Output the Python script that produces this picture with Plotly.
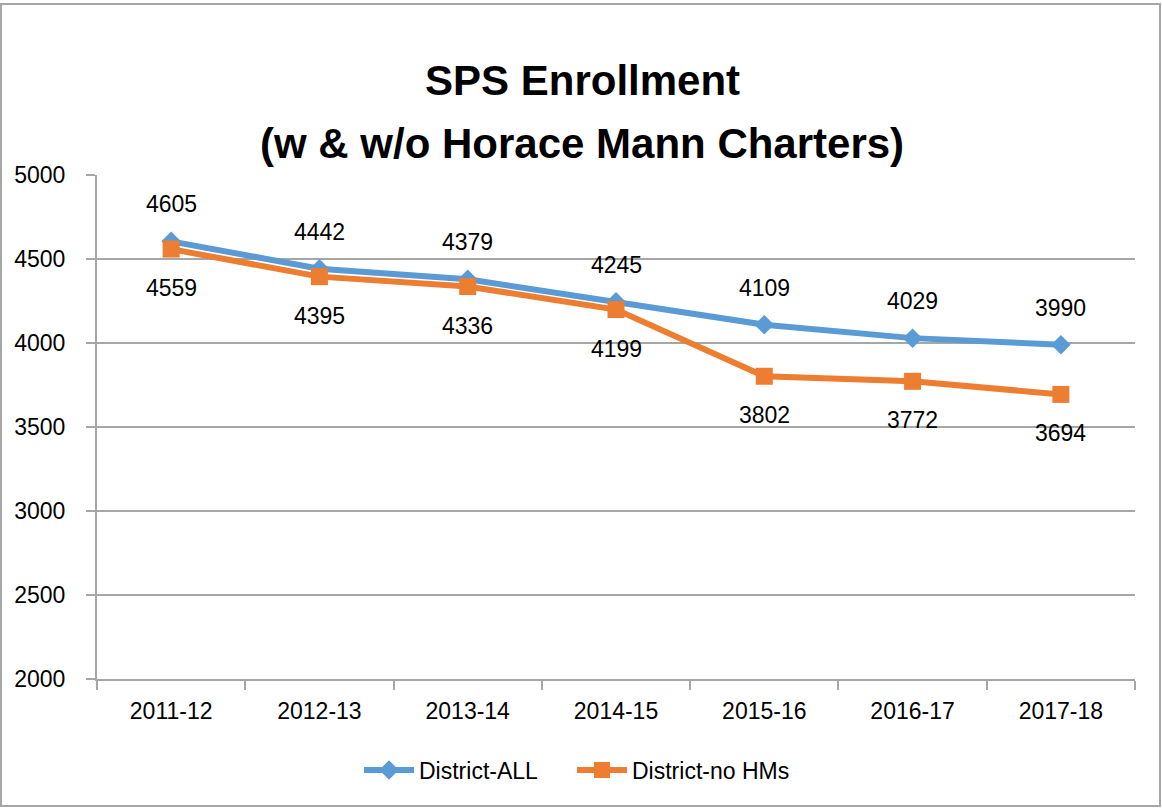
import plotly.graph_objects as go

years = ["2011-12", "2012-13", "2013-14", "2014-15", "2015-16", "2016-17", "2017-18"]
district_all = [4605, 4442, 4379, 4245, 4109, 4029, 3990]
district_no_hm = [4559, 4395, 4336, 4199, 3802, 3772, 3694]
y_ticks = [2000, 2500, 3000, 3500, 4000, 4500, 5000]

BLUE = "#5B9BD5"
ORANGE = "#ED7D31"
FONT = "Liberation Sans"

L, R, T, B = 97, 27, 175, 130
W, H = 1162, 809
pw, ph = W - L - R, H - T - B


def px_to_paper_x(px):
    return (px - L) / pw


def px_to_paper_y(py):
    return (H - B - py) / ph


fig = go.Figure()
fig.add_trace(go.Scatter(
    x=years, y=district_all, name="District-ALL", mode="lines+markers",
    line=dict(color=BLUE, width=6),
    marker=dict(symbol="diamond", size=15, color=BLUE),
    legend="legend",
))
fig.add_trace(go.Scatter(
    x=years, y=district_no_hm, name="District-no HMs", mode="lines+markers",
    line=dict(color=ORANGE, width=6),
    marker=dict(symbol="square", size=17, color=ORANGE),
    legend="legend2",
))

annotations = []
for x, v in zip(years, district_all):
    annotations.append(dict(x=x, y=v, xref="x", yref="y", text=str(v), showarrow=False,
                            yshift=37, font=dict(family=FONT, size=23, color="black")))
for x, v in zip(years, district_no_hm):
    annotations.append(dict(x=x, y=v, xref="x", yref="y", text=str(v), showarrow=False,
                            yshift=-39, font=dict(family=FONT, size=23, color="black")))

annotations.append(dict(x=px_to_paper_x(582), y=px_to_paper_y(55), xref="paper", yref="paper",
                        text="<b>SPS Enrollment</b>", showarrow=False,
                        font=dict(family=FONT, size=42, color="black")))
annotations.append(dict(x=px_to_paper_x(582), y=px_to_paper_y(118), xref="paper", yref="paper",
                        text="<b>(w &amp; w/o Horace Mann Charters)</b>", showarrow=False,
                        font=dict(family=FONT, size=42, color="black")))

legend_common = dict(orientation="h", yanchor="middle", xanchor="left",
                     y=px_to_paper_y(770), bgcolor="rgba(0,0,0,0)",
                     font=dict(family=FONT, size=23, color="black"), itemwidth=50)

fig.update_layout(
    width=W, height=H,
    margin=dict(l=L, r=R, t=T, b=B),
    paper_bgcolor="white", plot_bgcolor="white",
    font=dict(family=FONT, size=23, color="black"),
    showlegend=True,
    legend=dict(x=px_to_paper_x(359), **legend_common),
    legend2=dict(x=px_to_paper_x(572), **legend_common),
    annotations=annotations,
    shapes=[dict(type="rect", xref="paper", yref="paper",
                 x0=px_to_paper_x(1), x1=px_to_paper_x(1160),
                 y0=px_to_paper_y(806), y1=px_to_paper_y(4),
                 line=dict(color="#A6A6A6", width=2), layer="below")],
)

fig.update_xaxes(
    type="category", range=[-0.5, len(years) - 0.5], showgrid=False, showline=True,
    linecolor="#A6A6A6", linewidth=2,
    ticks="outside", tickson="boundaries", ticklen=9, tickcolor="#A6A6A6", tickwidth=2,
    ticklabelstandoff=10, tickfont=dict(family=FONT, size=23, color="black"),
)
fig.update_yaxes(
    range=[2000, 5000], tickvals=y_ticks, showgrid=True, gridcolor="#A6A6A6", gridwidth=2,
    showline=True, linecolor="#A6A6A6", linewidth=2, ticks="outside", ticklen=9,
    tickcolor="#A6A6A6", tickwidth=2, ticklabelstandoff=16, zeroline=False,
    tickfont=dict(family=FONT, size=23, color="black"),
)

fig.write_html("out.html", config={"displayModeBar": False},
               post_script="document.body.style.margin='0';")
